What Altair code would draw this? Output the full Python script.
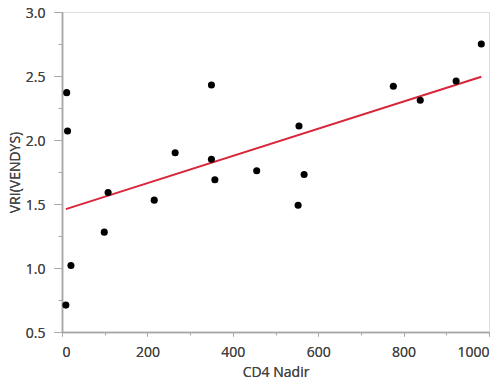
import altair as alt
import pandas as pd

cd4_nadir = [9, 11, 13, 21, 99, 108, 216, 265, 350, 350, 358, 456, 553, 555, 567, 776, 839, 923, 982]
vri = [0.71, 2.37, 2.07, 1.02, 1.28, 1.59, 1.53, 1.90, 2.43, 1.85, 1.69, 1.76, 1.49, 2.11, 1.73, 2.42, 2.31, 2.46, 2.75]

x_major = [0, 200, 400, 600, 800, 1000]
x_minor = [100, 300, 500, 700, 900]
y_major = [0.5, 1.0, 1.5, 2.0, 2.5, 3.0]
y_minor = [0.75, 1.25, 1.75, 2.25, 2.75]

df = pd.DataFrame({"cd4": cd4_nadir, "vri": vri})

FONT = "Open Sans"
TXT = "#444444"
AX = "#a8a8a8"

xscale = alt.Scale(domain=[0, 1000], nice=False, zero=False)
yscale = alt.Scale(domain=[0.5, 3.0], nice=False, zero=False)

x_axis = alt.Axis(values=x_major, format="d", title="CD4 Nadir", grid=False, domainColor=AX, tickColor=AX,
                  tickSize=4, labelFont=FONT, labelFontSize=14, labelColor=TXT, titleFont=FONT,
                  titleFontSize=14, titleFontWeight="normal", titleColor=TXT, labelPadding=9,
                  titlePadding=6, orient="bottom", domainWidth=1.5)
y_axis = alt.Axis(values=y_major, format=".1f", title="VRI(VENDYS)", grid=False, domainColor=AX,
                  tickColor=AX, tickSize=8, labelFont=FONT, labelFontSize=14, labelColor=TXT,
                  titleFont=FONT, titleFontSize=14, titleFontWeight="normal", titleColor=TXT,
                  labelPadding=9, titlePadding=3, orient="left", domainWidth=1.5, labelOffset=1)

points = alt.Chart(df).mark_circle(size=50, color="black", opacity=1).encode(
    x=alt.X("cd4:Q", scale=xscale, axis=x_axis),
    y=alt.Y("vri:Q", scale=yscale, axis=y_axis),
)

line = alt.Chart(df).transform_regression("cd4", "vri").mark_line(color="#d9253a", strokeWidth=2).encode(
    x=alt.X("cd4:Q", scale=xscale, axis=x_axis),
    y=alt.Y("vri:Q", scale=yscale, axis=y_axis),
)

minor_x = alt.Axis(values=x_minor, labels=False, title=None, domain=False, grid=False, tickColor=AX,
                   tickSize=3, orient="bottom")
minor_y = alt.Axis(values=y_minor, labels=False, title=None, domain=False, grid=False, tickColor=AX,
                   tickSize=4, orient="left")

minor = alt.Chart(df).mark_circle(size=0, opacity=0).encode(
    x=alt.X("cd4:Q", scale=xscale, axis=minor_x),
    y=alt.Y("vri:Q", scale=yscale, axis=minor_y),
)

chart = alt.layer(line, points, minor).resolve_axis(x="independent", y="independent").properties(
    width=427, height=320,
    autosize=alt.AutoSizeParams(type="none"),
    padding={"left": 54, "top": 4, "right": 3, "bottom": 51},
).configure_view(stroke="#d0d0d0", strokeWidth=1.5).configure(background="white")

chart.save("out.html", embed_options={"renderer": "svg", "actions": False})
